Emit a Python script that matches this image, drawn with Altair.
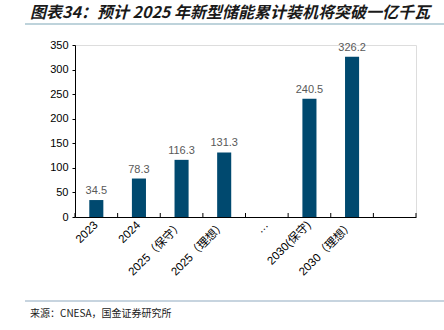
import altair as alt
import pandas as pd

title_text = "图表34：预计 2025 年新型储能累计装机将突破一亿千瓦"
source_text = "来源：CNESA，国金证券研究所"

categories = ["2023", "2024", "2025（保守）", "2025（理想）", "…", "2030(保守)", "2030（理想）", " "]
values = [34.5, 78.3, 116.3, 131.3, None, 240.5, 326.2, None]
labels = ["34.5", "78.3", "116.3", "131.3", "", "240.5", "326.2", ""]
y_ticks = [0, 50, 100, 150, 200, 250, 300, 350]

df = pd.DataFrame({"cat": categories, "v": values, "lab": labels})

W, H = 341, 172
FONT = "Liberation Sans, Arial, Noto Sans CJK SC"

xscale = alt.Scale(domain=categories, paddingInner=0.67, paddingOuter=0.335)
yscale = alt.Scale(domain=[0, 350], nice=False, zero=True)

x_axis = alt.Axis(labelAngle=-45, labelAlign="right", labelBaseline="middle",
                  labelPadding=6, ticks=False, domain=True, domainColor="#000000",
                  labelFont=FONT, labelFontSize=11.5, labelColor="#000000",
                  labelOverlap=False)
y_axis = alt.Axis(values=y_ticks, grid=False,
                  domainColor="#000000", tickColor="#000000", tickSize=3,
                  labelFont=FONT, labelFontSize=11, labelColor="#000000",
                  labelPadding=4, labelOverlap=False, labelFlush=False)

bars = alt.Chart(df).mark_bar(color="#00496f").encode(
    x=alt.X("cat:N", sort=categories, scale=xscale, title=None, axis=x_axis),
    y=alt.Y("v:Q", scale=yscale, title=None, axis=y_axis),
)

text = alt.Chart(df).mark_text(dy=-9, fontSize=11, color="#595959", font=FONT).encode(
    x=alt.X("cat:N", sort=categories, scale=xscale, title=None, axis=x_axis),
    y=alt.Y("v:Q", scale=yscale, title=None, axis=y_axis),
    text="lab:N",
)

ticks_a = alt.Chart(df).mark_rule(color="#000000").encode(
    x=alt.X("cat:N", sort=categories, scale=alt.Scale(domain=categories, padding=0),
            bandPosition=0, axis=None),
    y=alt.value(H - 4), y2=alt.value(H),
)
ticks_b = alt.Chart(df).transform_filter(alt.datum.cat == " ").mark_rule(color="#000000").encode(
    x=alt.X("cat:N", sort=categories, scale=alt.Scale(domain=categories, padding=0),
            bandPosition=1, axis=None),
    y=alt.value(H - 4), y2=alt.value(H),
)

tdf = pd.DataFrame({"t": [title_text]})
title = alt.Chart(tdf).mark_text(align="left", baseline="alphabetic", fontSize=16,
                                 fontStyle="italic", fontWeight="bold", color="#1a1a1a",
                                 font="Noto Sans CJK SC").encode(
    x=alt.value(-45), y=alt.value(-27), text="t:N")

sdf = pd.DataFrame({"t": [source_text]})
source = alt.Chart(sdf).mark_text(align="left", baseline="alphabetic", fontSize=10,
                                  color="#1a1a1a", font="Noto Sans CJK SC").encode(
    x=alt.value(-45), y=alt.value(272), text="t:N")

line_top = alt.Chart(tdf).mark_rule(color="#7fa8b8", strokeWidth=1.2).encode(
    x=alt.value(-50), x2=alt.value(369), y=alt.value(-21))
line_bot = alt.Chart(tdf).mark_rule(color="#8fa9bf", strokeWidth=1.2).encode(
    x=alt.value(-50), x2=alt.value(369), y=alt.value(256))

main = alt.layer(bars, text)
chart = alt.layer(main, ticks_a, ticks_b, title, source, line_top, line_bot).resolve_scale(
    x="independent"
).properties(
    width=W, height=H,
    autosize=alt.AutoSizeParams(type="none"),
    padding={"left": 75, "top": 45, "right": 28, "bottom": 113},
).configure_view(stroke=None).configure(background="white")

chart.save("out.html", embed_options={"renderer": "svg", "actions": False})
